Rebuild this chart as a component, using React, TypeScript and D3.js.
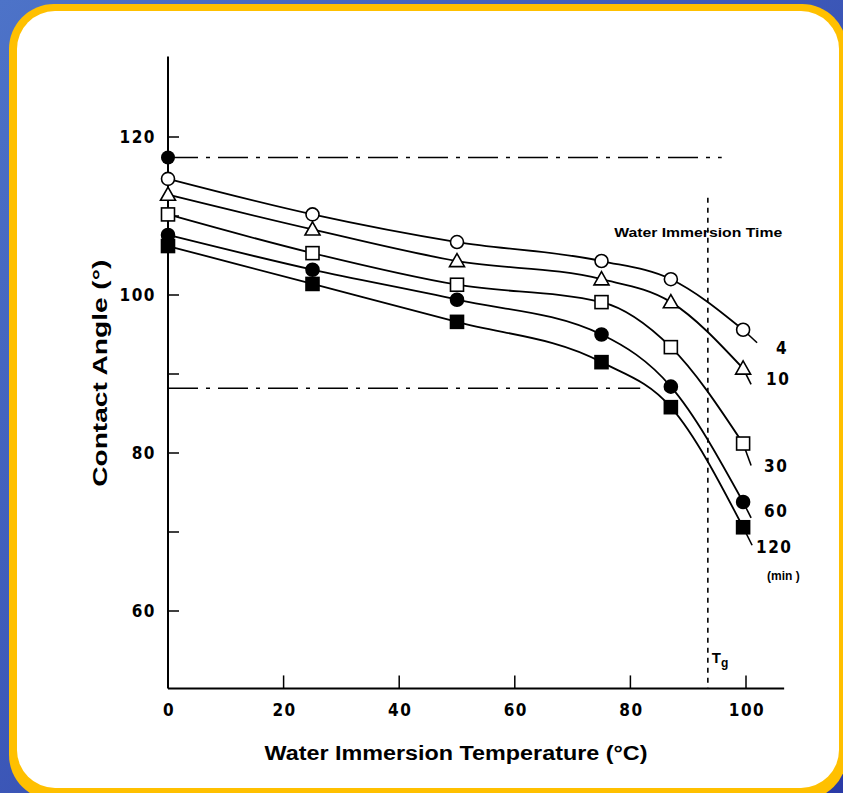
import React from "react";
import * as d3 from "d3";

// water immersion temperature (°C) of each measurement
const temps = [0, 25, 50, 75, 87, 99.5];

// contact angle (°) per immersion time
const series = [
  { name: "4", marker: "circle", filled: false, values: [114.7, 110.2, 106.7, 104.3, 102.0, 95.6] },
  { name: "10", marker: "triangle", filled: false, values: [112.7, 108.3, 104.3, 102.0, 99.1, 90.7] },
  { name: "30", marker: "square", filled: false, values: [110.2, 105.3, 101.3, 99.1, 93.4, 81.2] },
  { name: "60", marker: "circle", filled: true, values: [107.6, 103.2, 99.4, 95.0, 88.4, 73.8] },
  { name: "120", marker: "square", filled: true, values: [106.2, 101.4, 96.6, 91.5, 85.8, 70.6] },
];

const initialAngle = 117.4; // before immersion
const lowerRef = 88.2;
const tg = 93.4;

const xTicks = [0, 20, 40, 60, 80, 100];
const yMajor = [60, 80, 100, 120];
const yMinor = [70, 90, 110];

const W = 843;
const H = 793;

export default function App() {
  const x = d3.scaleLinear().domain([0, 100]).range([168, 746]);
  const y = d3.scaleLinear().domain([100, 120]).range([295, 137]);
  const y0 = y(50.2);
  const yTop = y(130.2);
  const xEnd = x(106.6);

  const line = d3
    .line<[number, number]>()
    .x((d) => x(d[0]))
    .y((d) => y(d[1]))
    .curve(d3.curveMonotoneX);

  // short leader strokes from last marker toward the label
  const leaders: Record<string, [number, number]> = {
    "4": [14, 13],
    "10": [8, 16],
    "30": [8, 22],
    "60": [8, 16],
    "120": [9, 18],
  };
  const labelPos: Record<string, [number, number]> = {
    "4": [776, 354],
    "10": [766, 385],
    "30": [764, 472],
    "60": [764, 517],
    "120": [756, 553],
  };

  const tickFont = {
    fontFamily: "'DejaVu Sans Condensed', 'DejaVu Sans', sans-serif",
    fontWeight: "bold" as const,
    fontSize: 17,
    letterSpacing: 1.5,
  };

  const marker = (kind: string, filled: boolean, cx: number, cy: number, key: string) => {
    const fill = filled ? "#000" : "#fff";
    if (kind === "circle")
      return <circle key={key} cx={cx} cy={cy} r={6.5} fill={fill} stroke="#000" strokeWidth={1.6} />;
    if (kind === "square")
      return <rect key={key} x={cx - 6.5} y={cy - 6.5} width={13} height={13} fill={fill} stroke="#000" strokeWidth={1.6} />;
    const s = 7.5;
    return (
      <path
        key={key}
        d={`M${cx},${cy - s}L${cx + s},${cy + s * 0.75}L${cx - s},${cy + s * 0.75}Z`}
        fill={fill}
        stroke="#000"
        strokeWidth={1.6}
      />
    );
  };

  return (
    <svg width={W} height={H} style={{ position: "absolute", left: 0, top: 0, display: "block" }}>
      <defs>
        <linearGradient id="bg" x1="0" y1="0" x2="1" y2="1">
          <stop offset="0%" stopColor="#4d73c8" />
          <stop offset="100%" stopColor="#2a3aa6" />
        </linearGradient>
      </defs>
      <rect width={W} height={H} fill="url(#bg)" />
      <rect x={9} y={4} width={838} height={796} rx={45} fill="#ffc000" />
      <rect x={17} y={11} width={822} height={777} rx={38} fill="#fff" />

      {/* axes */}
      <g stroke="#000" strokeWidth={2} fill="none">
        <line x1={x(0)} y1={yTop} x2={x(0)} y2={y0} />
        <line x1={x(0)} y1={y0} x2={xEnd} y2={y0} />
        {yMajor.concat(yMinor).map((v) => (
          <line key={"yt" + v} x1={x(0)} x2={x(0) + 11} y1={y(v)} y2={y(v)} strokeWidth={1.5} />
        ))}
        {xTicks.slice(1).map((v) => (
          <line key={"xt" + v} x1={x(v)} x2={x(v)} y1={y0} y2={y0 - 13} strokeWidth={1.5} />
        ))}
      </g>

      <g {...tickFont} fill="#000">
        {yMajor.map((v) => (
          <text key={"yl" + v} x={x(0) - 12} y={y(v)} dy="0.36em" textAnchor="end">
            {v}
          </text>
        ))}
        {xTicks.map((v) => (
          <text key={"xl" + v} x={x(v) + 1} y={y0 + 28} textAnchor="middle">
            {v}
          </text>
        ))}
      </g>

      {/* reference lines */}
      <line
        x1={x(0)}
        x2={x(95.8)}
        y1={y(initialAngle)}
        y2={y(initialAngle)}
        stroke="#000"
        strokeWidth={1.4}
        strokeDasharray="30 8 4 8"
      />
      <line
        x1={x(0)}
        x2={x(81.7)}
        y1={y(lowerRef)}
        y2={y(lowerRef)}
        stroke="#000"
        strokeWidth={1.4}
        strokeDasharray="30 8 4 8"
      />
      <line x1={x(tg)} x2={x(tg)} y1={y(112.3)} y2={y0} stroke="#000" strokeWidth={1.6} strokeDasharray="5 5" />
      <text
        x={x(tg) + 4}
        y={y(53.4)}
        fontFamily="'Liberation Sans', Arial, sans-serif"
        fontWeight="bold"
        fontSize={15}
        fill="#000"
      >
        T<tspan fontSize={12} dy={4}>g</tspan>
      </text>

      {/* series */}
      {series.map((s) => {
        const pts = temps.map((t, i) => [t, s.values[i]] as [number, number]);
        const last = pts[pts.length - 1];
        const lx = x(last[0]);
        const ly = y(last[1]);
        const [dx, dy] = leaders[s.name];
        return (
          <g key={s.name}>
            <path d={line(pts) ?? ""} fill="none" stroke="#000" strokeWidth={1.8} />
            <line x1={lx} y1={ly} x2={lx + dx} y2={ly + dy} stroke="#000" strokeWidth={1.6} />
          </g>
        );
      })}
      {series.map((s) =>
        temps.map((t, i) => marker(s.marker, s.filled, x(t), y(s.values[i]), s.name + i))
      )}
      <circle cx={x(0)} cy={y(initialAngle)} r={7} fill="#000" />

      {/* labels */}
      <text
        x={x(77.2)}
        y={y(107.3)}
        fontFamily="'Liberation Sans', Arial, sans-serif"
        fontWeight="bold"
        fontSize={12}
        fill="#000"
        textLength={168}
        lengthAdjust="spacingAndGlyphs"
      >
        Water Immersion Time
      </text>
      <g {...tickFont} fill="#000">
        {series.map((s) => (
          <text key={"lab" + s.name} x={labelPos[s.name][0]} y={labelPos[s.name][1]}>
            {s.name}
          </text>
        ))}
      </g>
      <text
        x={767}
        y={580}
        fontFamily="'Liberation Sans', Arial, sans-serif"
        fontWeight="bold"
        fontSize={12}
        fill="#000"
      >
        (min )
      </text>

      <text
        transform={`translate(107,${y(90.1)}) rotate(-90)`}
        textAnchor="middle"
        fontFamily="'Liberation Sans', Arial, sans-serif"
        fontWeight="bold"
        fontSize={20}
        fill="#000"
        textLength={227}
        lengthAdjust="spacingAndGlyphs"
      >
        Contact Angle (°)
      </text>
      <text
        x={456}
        y={760}
        textAnchor="middle"
        fontFamily="'Liberation Sans', Arial, sans-serif"
        fontWeight="bold"
        fontSize={20}
        fill="#000"
        textLength={383}
        lengthAdjust="spacingAndGlyphs"
      >
        Water Immersion Temperature (°C)
      </text>
    </svg>
  );
}
